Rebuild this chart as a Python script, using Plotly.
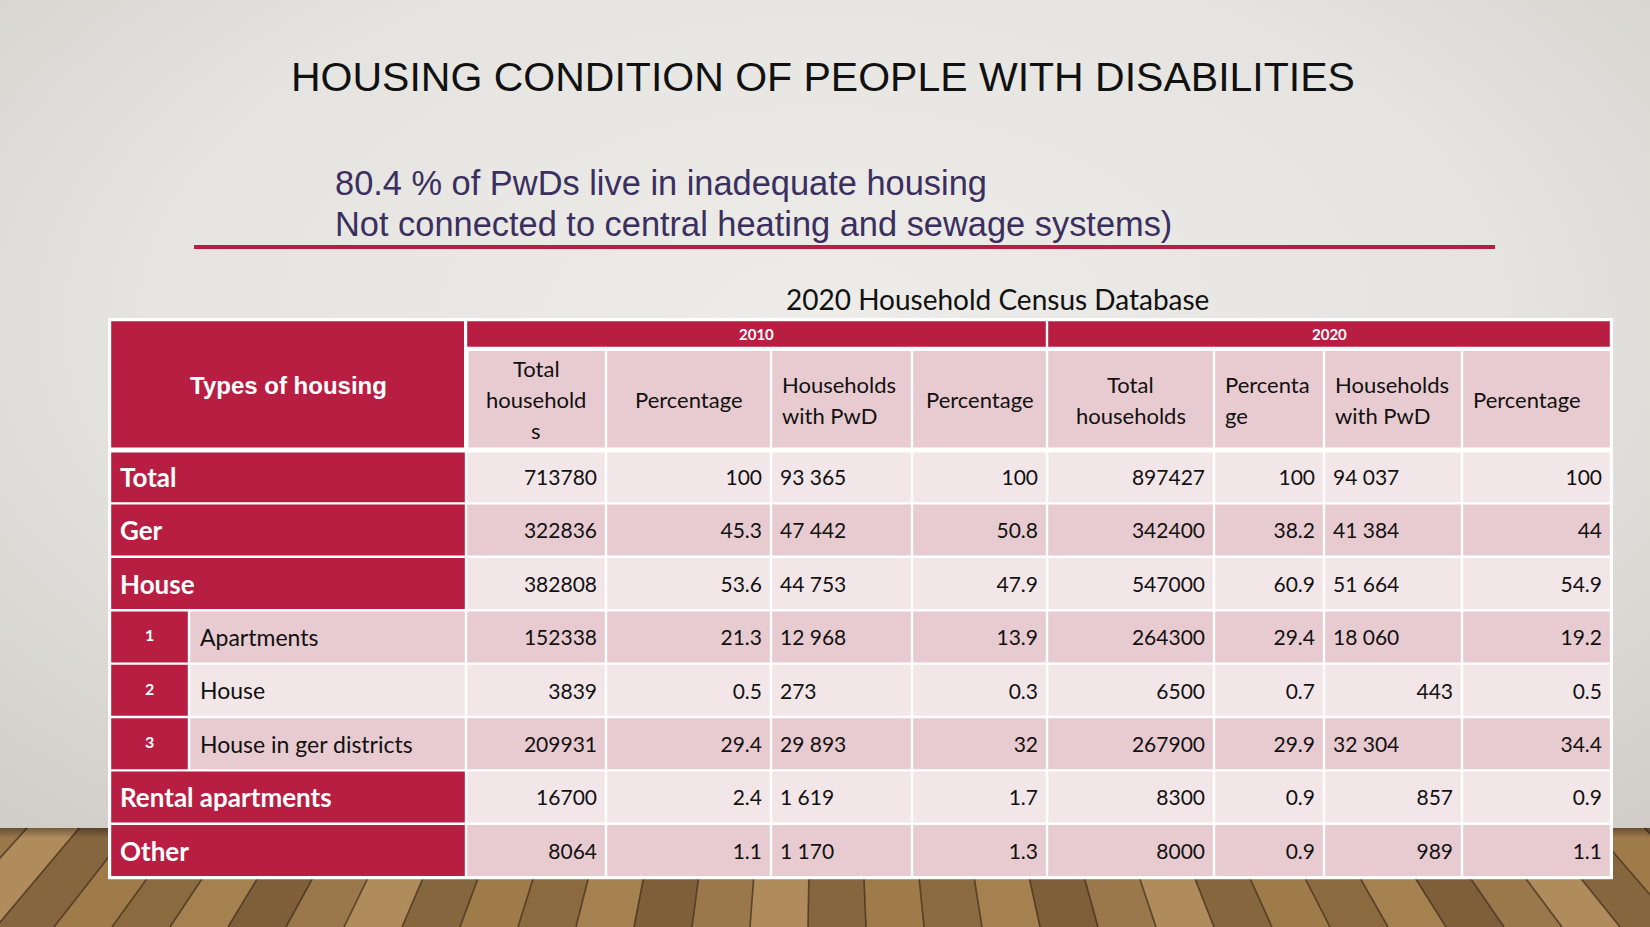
import base64
import plotly.graph_objects as go

# ------------------------------------------------------------------ data
housing_types = ["Total", "Ger", "House", "Apartments", "House",
                 "House in ger districts", "Rental apartments", "Other"]
sub_numbers = ["", "", "", "1", "2", "3", "", ""]

total_households_2010 = [713780, 322836, 382808, 152338, 3839, 209931, 16700, 8064]
percentage_2010 = [100, 45.3, 53.6, 21.3, 0.5, 29.4, 2.4, 1.1]
households_pwd_2010 = [93365, 47442, 44753, 12968, 273, 29893, 1619, 1170]
percentage_pwd_2010 = [100, 50.8, 47.9, 13.9, 0.3, 32, 1.7, 1.3]

total_households_2020 = [897427, 342400, 547000, 264300, 6500, 267900, 8300, 8000]
percentage_2020 = [100, 38.2, 60.9, 29.4, 0.7, 29.9, 0.9, 0.9]
households_pwd_2020 = [94037, 41384, 51664, 18060, 443, 32304, 857, 989]
percentage_pwd_2020 = [100, 44, 54.9, 19.2, 0.5, 34.4, 0.9, 1.1]

years = ["2010", "2020"]
header_first = "Types of housing"
headers_2010 = ["Total<br>household<br>s", "Percentage", "Households<br>with PwD", "Percentage"]
headers_2020 = ["Total<br>households", "Percenta<br>ge", "Households<br>with PwD", "Percentage"]

title_text = "HOUSING CONDITION OF PEOPLE WITH DISABILITIES"
subtitle_lines = ["80.4 % of PwDs live in inadequate housing",
                  "Not connected to central heating and sewage systems)"]
source_text = "2020 Household Census Database"

# ------------------------------------------------------------------ style
W, H = 1650, 927
CRIMSON = "#B81E42"
LIGHT = "#F3E6E9"
DARK = "#E8CBD0"
TFONT = "Lato"
TABLE_X0, TABLE_Y0 = 110, 320
col_widths = [79, 277, 140, 165, 141, 135, 167, 110, 138, 149]
year_row_h = 28
subhead_h = 102
row_h = 53.4
pad = 9
VAL_DY = 3
col_align = ["right", "right", "left", "right", "right", "right", "left", "right"]
pwd2020_align = ["left", "left", "left", "left", "right", "left", "right", "right"]
header_align = ["center", "center", "left", "center", "center", "left", "left", "left"]

col_edges = [TABLE_X0]
for w in col_widths:
    col_edges.append(col_edges[-1] + w)
n_rows = len(housing_types)
body_y0 = TABLE_Y0 + year_row_h + subhead_h
row_edges = [body_y0 + i * row_h for i in range(n_rows + 1)]


def fmt_pct(v):
    return f"{v:g}"


def fmt_int(v):
    return f"{v}"


def fmt_space(v):
    return f"{v:,}".replace(",", " ")


columns = [
    ([fmt_int(v) for v in total_households_2010], [col_align[0]] * n_rows),
    ([fmt_pct(v) for v in percentage_2010], [col_align[1]] * n_rows),
    ([fmt_space(v) for v in households_pwd_2010], [col_align[2]] * n_rows),
    ([fmt_pct(v) for v in percentage_pwd_2010], [col_align[3]] * n_rows),
    ([fmt_int(v) for v in total_households_2020], [col_align[4]] * n_rows),
    ([fmt_pct(v) for v in percentage_2020], [col_align[5]] * n_rows),
    ([fmt_space(v) for v in households_pwd_2020], pwd2020_align),
    ([fmt_pct(v) for v in percentage_pwd_2020], [col_align[7]] * n_rows),
]

# ------------------------------------------------------------------ background (svg)
vpx, vpy = 825, -60
floor_top = 828
plank_cols = ["#8C6A40", "#A4814F", "#7E5F3A", "#9A784C", "#B08C5C", "#86663F", "#A07B4A"]
ratio = (floor_top - vpy) / (H - vpy)
planks = []
xs = list(range(-700, 2400, 58))
for i in range(len(xs) - 1):
    xb0, xb1 = xs[i], xs[i + 1]
    xt0 = vpx + (xb0 - vpx) * ratio
    xt1 = vpx + (xb1 - vpx) * ratio
    c = plank_cols[i % len(plank_cols)]
    planks.append(f'<polygon points="{xt0:.1f},{floor_top} {xt1:.1f},{floor_top} {xb1:.1f},{H} {xb0:.1f},{H}" fill="{c}"/>')
    planks.append(f'<line x1="{xt0:.1f}" y1="{floor_top}" x2="{xb0:.1f}" y2="{H}" stroke="#3E2A18" stroke-width="1.6" stroke-opacity="0.75"/>')
svg = f'''<svg xmlns="http://www.w3.org/2000/svg" width="{W}" height="{H}" viewBox="0 0 {W} {H}" preserveAspectRatio="none">
<defs>
<radialGradient id="g" cx="0.5" cy="0.35" r="0.75">
<stop offset="0" stop-color="#EDECE8"/>
<stop offset="0.55" stop-color="#E6E4E0"/>
<stop offset="1" stop-color="#CFCCC7"/>
</radialGradient>
<linearGradient id="sh" x1="0" y1="0" x2="0" y2="1">
<stop offset="0" stop-color="#000" stop-opacity="0.35"/>
<stop offset="1" stop-color="#000" stop-opacity="0"/>
</linearGradient>
</defs>
<rect width="{W}" height="{H}" fill="url(#g)"/>
{''.join(planks)}
<rect x="0" y="{floor_top}" width="{W}" height="10" fill="url(#sh)"/>
</svg>'''
bg_uri = "data:image/svg+xml;base64," + base64.b64encode(svg.encode()).decode()

# ------------------------------------------------------------------ figure
fig = go.Figure()
shapes = []


def rect(x0, x1, y0, y1, fill):
    shapes.append(dict(type="rect", xref="x", yref="y", x0=x0, x1=x1, y0=y0, y1=y1,
                       fillcolor=fill, line=dict(width=0), layer="below"))


g = 1.2
rect(col_edges[0] - 2, col_edges[-1] + 2, TABLE_Y0 - 2, row_edges[-1] + 2, "#FFFFFF")
rect(col_edges[0] + g, col_edges[2] - 2, TABLE_Y0 + g, body_y0 - 2.5, CRIMSON)
rect(col_edges[2] + g, col_edges[6] - g, TABLE_Y0 + g, TABLE_Y0 + year_row_h - g, CRIMSON)
rect(col_edges[6] + g, col_edges[10] - g, TABLE_Y0 + g, TABLE_Y0 + year_row_h - g, CRIMSON)
for j in range(2, 10):
    rect(col_edges[j] + (2.5 if j == 2 else g), col_edges[j + 1] - g,
         TABLE_Y0 + year_row_h + 3, body_y0 - 2.5, DARK)
for r in range(n_rows):
    fill = LIGHT if r % 2 == 0 else DARK
    y0 = row_edges[r] + (2.5 if r == 0 else g)
    y1 = row_edges[r + 1] - g
    if sub_numbers[r]:
        rect(col_edges[0] + g, col_edges[1] - g, y0, y1, CRIMSON)
        rect(col_edges[1] + g, col_edges[2] - g, y0, y1, fill)
    else:
        rect(col_edges[0] + g, col_edges[2] - g, y0, y1, CRIMSON)
    for j in range(2, 10):
        rect(col_edges[j] + g, col_edges[j + 1] - g, y0, y1, fill)

row_centers = [(row_edges[r] + row_edges[r + 1]) / 2 for r in range(n_rows)]

for k, (texts, aligns) in enumerate(columns):
    j = k + 2
    xs_ = [col_edges[j + 1] - pad if a == "right" else col_edges[j] + pad for a in aligns]
    pos = ["middle left" if a == "right" else "middle right" for a in aligns]
    fig.add_trace(go.Scatter(x=xs_, y=[c + VAL_DY for c in row_centers], mode="text", text=texts,
                             textposition=pos, hoverinfo="skip", showlegend=False,
                             textfont=dict(family=TFONT, size=21, color="#111111")))

annotations = []


def ann(x, y, text, size, color, family, xanchor="center", bold=False):
    if bold:
        text = f"<b>{text}</b>"
    annotations.append(dict(x=x, y=y, xref="x", yref="y", text=text, showarrow=False,
                            xanchor=xanchor, yanchor="middle",
                            font=dict(size=size, color=color, family=family)))


for r in range(n_rows):
    if sub_numbers[r]:
        ann((col_edges[0] + col_edges[1]) / 2, row_centers[r] - 2, sub_numbers[r], 16, "#FFFFFF", TFONT, bold=True)
        ann(col_edges[1] + 9, row_centers[r], housing_types[r], 23, "#111111", TFONT, xanchor="left")
    else:
        ann(col_edges[0] + 8, row_centers[r], housing_types[r], 26, "#FFFFFF", TFONT, xanchor="left", bold=True)

ann((col_edges[0] + col_edges[2]) / 2, (TABLE_Y0 + body_y0) / 2, header_first, 24, "#FFFFFF",
    "Liberation Sans", bold=True)
ann((col_edges[2] + col_edges[6]) / 2, TABLE_Y0 + year_row_h / 2, years[0], 15, "#FFFFFF", TFONT, bold=True)
ann((col_edges[6] + col_edges[10]) / 2, TABLE_Y0 + year_row_h / 2, years[1], 15, "#FFFFFF", TFONT, bold=True)
sub_mid = TABLE_Y0 + year_row_h + 3 + (subhead_h - 5) / 2
line_gap = 31
for k, label in enumerate(headers_2010 + headers_2020):
    j = k + 2
    lines = label.split("<br>")
    a = header_align[k]
    if a == "center":
        x, xa = (col_edges[j] + col_edges[j + 1]) / 2, "center"
    else:
        x, xa = col_edges[j] + pad, "left"
    for li, t in enumerate(lines):
        y = sub_mid + (li - (len(lines) - 1) / 2) * line_gap
        ann(x, y, t, 22, "#111111", TFONT, xanchor=xa)

ann(W / 2 - 2, 77, title_text, 41, "#111111", "Liberation Sans")
ann(333, 183, subtitle_lines[0], 34.4, "#3A2F5F", "Liberation Sans", xanchor="left")
ann(333, 224, subtitle_lines[1], 34.4, "#3A2F5F", "Liberation Sans", xanchor="left")
ann(997, 299, source_text, 28, "#111111", TFONT)
shapes.append(dict(type="line", xref="x", yref="y", x0=194, x1=1495, y0=247, y1=247,
                   line=dict(color=CRIMSON, width=4), layer="below"))

fig.update_layout(
    width=W, height=H,
    margin=dict(l=0, r=0, t=0, b=0),
    paper_bgcolor="#E6E4E0",
    plot_bgcolor="rgba(0,0,0,0)",
    xaxis=dict(range=[0, W], visible=False, fixedrange=True),
    yaxis=dict(range=[H, 0], visible=False, fixedrange=True),
    shapes=shapes,
    annotations=annotations,
    images=[dict(source=bg_uri, xref="paper", yref="paper", x=0, y=1, sizex=1, sizey=1,
                 xanchor="left", yanchor="top", sizing="stretch", layer="below")],
    showlegend=False,
)

fig.write_html("out.html", config={"displayModeBar": False},
               post_script="document.body.style.margin='0';document.body.style.overflow='hidden';")
